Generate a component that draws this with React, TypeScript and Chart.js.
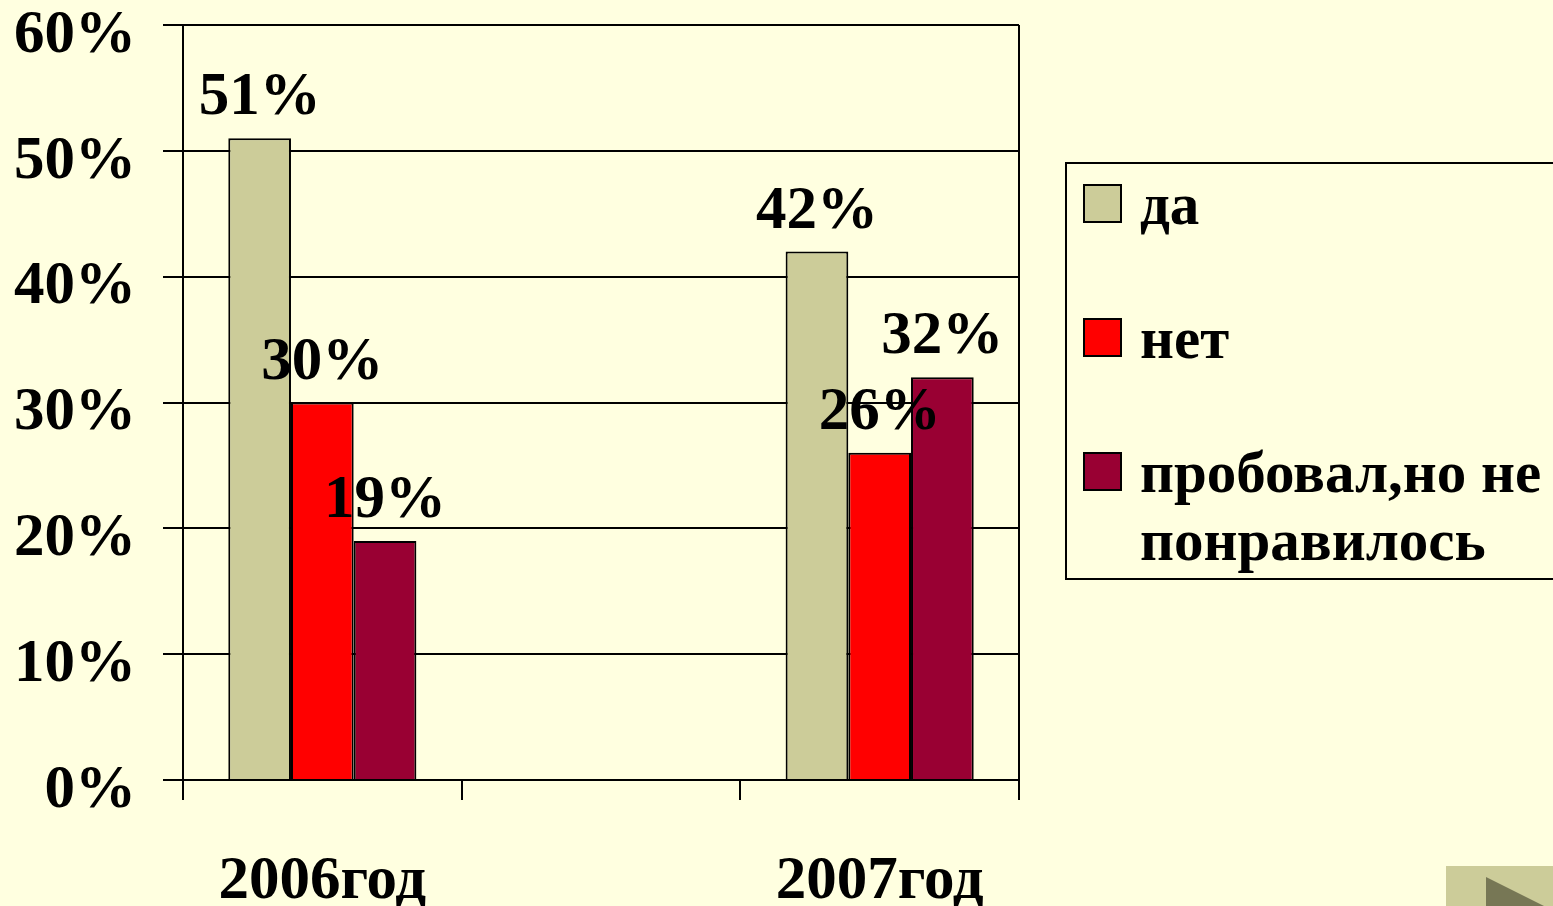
import React, { useEffect, useRef } from 'react';
import { Chart, registerables } from 'chart.js';

Chart.register(...registerables);

const categories = ['2006год', '', '2007год'];
const seriesNames = ['да', 'нет', 'пробовал,но не понравилось'];
const daValues = [51, null, 42];
const netValues = [30, null, 26];
const triedValues = [19, null, 32];
const seriesColors = ['#CCCC99', '#FF0000', '#990033'];
const yMin = 0;
const yMax = 60;
const yStep = 10;

const FAMILY = "'Liberation Serif', 'Times New Roman', serif";
const FONT_PX = 61;
const FONT = `bold ${FONT_PX}px ${FAMILY}`;
const LEGEND_FONT = `bold 59px ${FAMILY}`;

const valueLabels = {
  id: 'valueLabels',
  afterDatasetsDraw(chart: any) {
    const ctx = chart.ctx;
    ctx.save();
    ctx.font = FONT;
    ctx.fillStyle = '#000';
    ctx.textAlign = 'center';
    ctx.textBaseline = 'alphabetic';
    chart.data.datasets.forEach((ds: any, i: number) => {
      const meta = chart.getDatasetMeta(i);
      meta.data.forEach((bar: any, j: number) => {
        const v = ds.data[j];
        if (v == null) return;
        ctx.fillText(`${v}%`, bar.x, bar.y - 24);
      });
    });
    ctx.restore();
  },
};

const boxLegend = {
  id: 'boxLegend',
  afterDraw(chart: any) {
    const { ctx, chartArea, width } = chart;
    const left = chartArea.right + 47;
    const top = 163;
    const bottom = 579;
    ctx.save();
    ctx.lineWidth = 2;
    ctx.strokeStyle = '#000';
    ctx.strokeRect(left, top, width - left + 20, bottom - top);
    ctx.font = LEGEND_FONT;
    ctx.textAlign = 'left';
    ctx.textBaseline = 'alphabetic';
    const textX = left + 74;
    const maxW = width - textX + 12;
    chart.data.datasets.forEach((ds: any, i: number) => {
      const sqY = top + 22 + i * 134;
      ctx.fillStyle = ds.backgroundColor;
      ctx.fillRect(left + 18, sqY, 37, 37);
      ctx.lineWidth = 2;
      ctx.strokeStyle = '#000';
      ctx.strokeRect(left + 18, sqY, 37, 37);
      const words = String(ds.label).split(' ');
      const lines: string[] = [];
      let cur = '';
      words.forEach((w) => {
        const test = cur ? cur + ' ' + w : w;
        if (cur && ctx.measureText(test).width > maxW) {
          lines.push(cur);
          cur = w;
        } else {
          cur = test;
        }
      });
      if (cur) lines.push(cur);
      ctx.fillStyle = '#000';
      lines.forEach((ln, k) => {
        ctx.fillText(ln, textX, sqY + 39 + k * 68);
      });
    });
    ctx.restore();
  },
};

export default function App() {
  const canvasRef = useRef<HTMLCanvasElement | null>(null);

  useEffect(() => {
    const canvas = canvasRef.current;
    if (!canvas) return;
    const values = [daValues, netValues, triedValues];
    const chart = new Chart(canvas, {
      type: 'bar',
      data: {
        labels: categories,
        datasets: seriesNames.map((name, i) => ({
          label: name,
          data: values[i],
          backgroundColor: seriesColors[i],
          borderColor: '#000',
          borderWidth: 2,
          categoryPercentage: 0.675,
          barPercentage: 1,
        })),
      },
      options: {
        responsive: false,
        devicePixelRatio: 1,
        animation: false,
        layout: { padding: { top: 25, right: 534, left: 0, bottom: 0 } },
        plugins: {
          legend: { display: false },
          tooltip: { enabled: false },
        },
        scales: {
          x: {
            offset: true,
            grid: {
              offset: true,
              drawOnChartArea: true,
              drawTicks: true,
              tickLength: 20,
              lineWidth: 2,
              color: (c: any) =>
                c.type === 'scale' || c.index === 3 ? '#000' : 'rgba(0,0,0,0)',
              tickColor: '#000',
            },
            border: { display: true, color: '#000', width: 2 },
            ticks: {
              color: '#000',
              font: { family: FAMILY, size: FONT_PX, weight: 'bold' },
              padding: 46,
              maxRotation: 0,
              autoSkip: false,
            },
            afterFit: (s: any) => {
              s.height = 126;
              s.paddingLeft = 0;
              s.paddingRight = 0;
            },
          },
          y: {
            min: yMin,
            max: yMax,
            grid: {
              color: '#000',
              lineWidth: 2,
              drawTicks: true,
              tickLength: 20,
            },
            border: { display: true, color: '#000', width: 2 },
            ticks: {
              stepSize: yStep,
              color: '#000',
              font: { family: FAMILY, size: FONT_PX, weight: 'bold' },
              padding: 27,
              labelOffset: 11,
              callback: (v: any) => `${v}%`,
            },
            afterFit: (s: any) => {
              s.width = 183;
              s.paddingTop = 0;
              s.paddingBottom = 0;
            },
          },
        },
      },
      plugins: [valueLabels, boxLegend],
    } as any);
    return () => chart.destroy();
  }, []);

  return (
    <div
      style={{
        position: 'fixed',
        left: 0,
        top: 0,
        width: 1553,
        height: 906,
        background: '#FFFFE0',
        overflow: 'hidden',
      }}
    >
      <canvas ref={canvasRef} width={1553} height={906} style={{ display: 'block' }} />
      <div
        style={{
          position: 'absolute',
          left: 1446,
          top: 866,
          width: 107,
          height: 40,
          background: '#CCCC99',
        }}
      />
      <div
        style={{
          position: 'absolute',
          left: 1486,
          top: 877,
          width: 0,
          height: 0,
          borderLeft: '58px solid #777755',
          borderTop: '29px solid transparent',
          borderBottom: '29px solid transparent',
        }}
      />
    </div>
  );
}
